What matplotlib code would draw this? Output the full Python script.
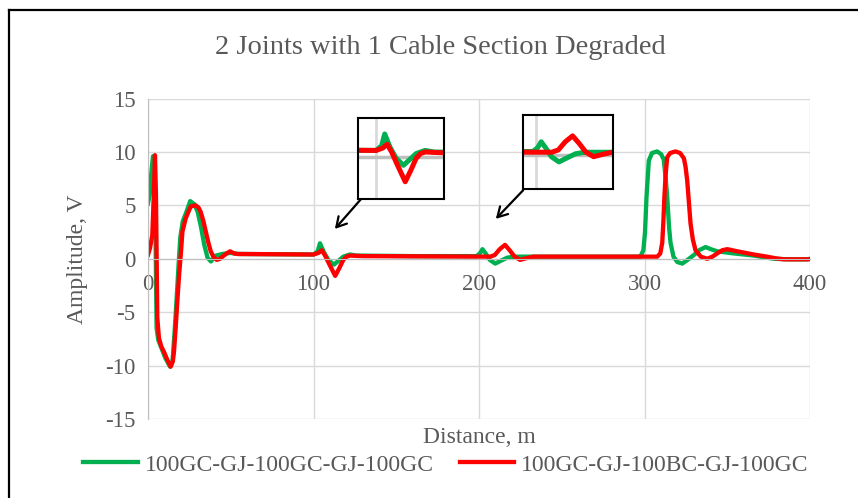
import matplotlib.pyplot as plt
from matplotlib.lines import Line2D

# distance (m) and amplitude (V)
green_x = [0, 1.0, 2.0, 3.0, 3.8, 4.5, 5.2, 6.2, 8.5, 10.5, 13.3, 14.8, 16.0, 17.0, 18.5,
           19.5, 21.0, 23.0, 25.5, 28.0, 30.0, 32.0, 34.0, 36.0, 38.0, 41.0, 45.0, 50.0,
           55.0, 100.0, 102.5, 103.9, 106.3, 109.0, 112.3, 115.0, 118.0, 122.0, 126.0,
           160, 198.5, 200.5, 202.1, 204.0, 206.5, 209.8, 213.0, 217.0, 221.0, 230,
           297.5, 299.3, 300.3, 301.2, 302.6, 304.5, 307.6, 310.0, 311.6, 312.8, 313.7,
           314.8, 315.7, 317.5, 319.8, 322.8, 326.0, 329.8, 333.0, 336.9, 340.0, 343.9,
           349.0, 354.0, 360.0, 366.0, 372.0, 378.0, 388.0, 398.0, 400]
green_y = [5.2, 6.0, 8.0, 9.6, 9.4, 3.0, -6.5, -7.6, -8.5, -9.3, -10.1, -9.6, -7.0, -4.5, -0.5,
           2.0, 3.5, 4.3, 5.4, 5.1, 4.4, 3.0, 1.3, 0.1, -0.25, 0.3, 0.45, 0.55,
           0.45, 0.4, 0.7, 1.45, 0.6, -0.1, -0.55, -0.2, 0.2, 0.4, 0.3,
           0.25, 0.25, 0.5, 0.9, 0.5, -0.1, -0.45, -0.2, 0.1, 0.2, 0.2,
           0.2, 0.8, 2.5, 5.8, 9.2, 9.9, 10.05, 9.8, 9.3, 7.5, 5.8,
           3.0, 1.5, 0.2, -0.3, -0.45, -0.1, 0.35, 0.8, 1.1, 0.9, 0.7,
           0.6, 0.5, 0.4, 0.3, 0.15, 0.0, -0.05, -0.05, 0.0]

red_x = [0, 1.2, 2.6, 3.5, 4.2, 4.8, 5.3, 5.6, 6.6, 8.0, 9.6, 11.5, 13.7, 15.0, 15.7, 16.7,
         17.7, 18.8, 19.8, 20.8, 22.8, 25.8, 28.8, 30.5, 31.8, 33.5, 34.9, 36.5, 37.9, 39.5,
         41.5, 43.5, 45.0, 47.5, 49.6, 52.0, 54.0, 100.0, 103.0, 105.0, 107.0, 109.5,
         113.1, 115.5, 118.0, 120.0, 122.0, 130, 206.7, 209.5, 212.5, 215.7, 218.5,
         221.5, 224.8, 228.5, 232.9, 307.7, 309.5, 310.7, 311.4, 312.0, 312.8, 313.7,
         315.5, 318.7, 321.5, 323.8, 324.8, 325.8, 326.8, 327.8, 329.2, 330.8, 334.0,
         337.9, 341.0, 343.9, 347.0, 350.0, 353.0, 356.0, 361.0, 366.0, 370.0, 374.0,
         379.0, 384.0, 392.0, 399.0, 400]
red_y = [0.37, 1.0, 2.2, 6.0, 9.7, 6.0, -1.0, -5.5, -7.4, -8.2, -8.7, -9.4, -10.1, -9.6, -8.7, -6.5,
         -4.0, -1.5, 0.4, 2.55, 3.8, 4.9, 5.0, 4.8, 4.4, 3.5, 2.55, 1.5, 0.7, 0.2,
         -0.1, 0.0, 0.2, 0.5, 0.7, 0.5, 0.45, 0.4, 0.55, 0.8, 0.3, -0.5,
         -1.6, -0.9, -0.1, 0.2, 0.3, 0.25, 0.2, 0.35, 0.9, 1.3, 0.8,
         0.2, -0.1, 0.05, 0.2, 0.2, 0.5, 1.5, 3.5, 5.8, 8.0, 9.5,
         9.9, 10.05, 9.9, 9.4, 8.6, 7.3, 5.3, 3.3, 1.8, 0.8, 0.2,
         0.0, 0.2, 0.5, 0.8, 0.9, 0.8, 0.7, 0.55, 0.4, 0.3, 0.2,
         0.05, -0.05, -0.05, -0.05, -0.05]

green_label = '100GC-GJ-100GC-GJ-100GC'
red_label = '100GC-GJ-100BC-GJ-100GC'
GREEN = '#00B050'
RED = '#FF0000'
TXT = '#595959'

plt.rcParams['font.family'] = ['Liberation Serif', 'DejaVu Serif']
plt.rcParams['axes.unicode_minus'] = False

fig = plt.figure(figsize=(8.58, 4.98), dpi=100)
ax = fig.add_axes([0.1725, 0.1586, 0.7716, 0.6435])

ax.plot(green_x, green_y, color=GREEN, lw=3.1, solid_joinstyle='round', label=green_label)
ax.plot(red_x, red_y, color=RED, lw=3.1, solid_joinstyle='round', label=red_label)

ax.set_xlim(0, 400)
ax.set_ylim(-15, 15)
ax.set_xticks([0, 100, 200, 300, 400])
ax.set_yticks(range(-15, 16, 5))
ax.grid(True, color='#d9d9d9', lw=1.0)
ax.set_axisbelow(True)
for s in ['top', 'right']:
    ax.spines[s].set_visible(False)
ax.spines['left'].set_color('#bfbfbf')
ax.spines['bottom'].set_position(('data', 0))
ax.spines['bottom'].set_color('#bfbfbf')
ax.tick_params(length=0, labelsize=16.5, colors=TXT)
ax.tick_params(axis='x', pad=11)
ax.tick_params(axis='y', pad=9)

fig.text(440 / 858, 1 - 48 / 498, '2 Joints with 1 Cable Section Degraded',
         ha='center', va='center', fontsize=20.5, color=TXT)
fig.text(479 / 858, 1 - 437 / 498, 'Distance, m', ha='center', va='center',
         fontsize=17, color=TXT)
fig.text(78 / 858, 1 - 259 / 498, 'Amplitude, V', ha='center', va='center',
         rotation=90, fontsize=17, color=TXT)

# zoomed insets
insets = [([0.4167, 0.6004, 0.1008, 0.162], (91.7, 130.5), (-2.7, 2.45), 100),
          ([0.609, 0.6195, 0.1049, 0.1496], (194, 233), (-2.3, 2.7), 200)]
for rect, xl, yl, vx in insets:
    ia = fig.add_axes(rect)
    ia.axvline(vx, color='#d9d9d9', lw=2)
    ia.axhline(0, color='#bfbfbf', lw=2.5)
    ia.plot(green_x, green_y, color=GREEN, lw=3.6, solid_joinstyle='round')
    ia.plot(red_x, red_y, color=RED, lw=3.6, solid_joinstyle='round')
    ia.set_xlim(*xl)
    ia.set_ylim(*yl)
    ia.set_xticks([])
    ia.set_yticks([])
    for s in ia.spines.values():
        s.set_color('black')
        s.set_linewidth(1.5)

arrow = dict(arrowstyle='->,head_length=0.7,head_width=0.4', color='black', lw=1.6)
ax.annotate('', xy=(111.8, 2.6), xytext=(129.9, 5.8), arrowprops=arrow)
ax.annotate('', xy=(209, 3.55), xytext=(227.8, 6.6), arrowprops=arrow)

fig.legend(loc='center', bbox_to_anchor=(446 / 858, 1 - 465 / 498), ncol=2,
           frameon=False, fontsize=17, labelcolor=TXT, handlelength=2.3,
           handletextpad=0.3, columnspacing=1.1)

# outer chart frame (left and top edges visible)
fig.add_artist(Line2D([9 / 858, 9 / 858], [0, 1 - 10 / 498], color='black', lw=1.6))
fig.add_artist(Line2D([9 / 858, 1], [1 - 10 / 498, 1 - 10 / 498], color='black', lw=1.6))

fig.savefig('out.png', dpi=100)
